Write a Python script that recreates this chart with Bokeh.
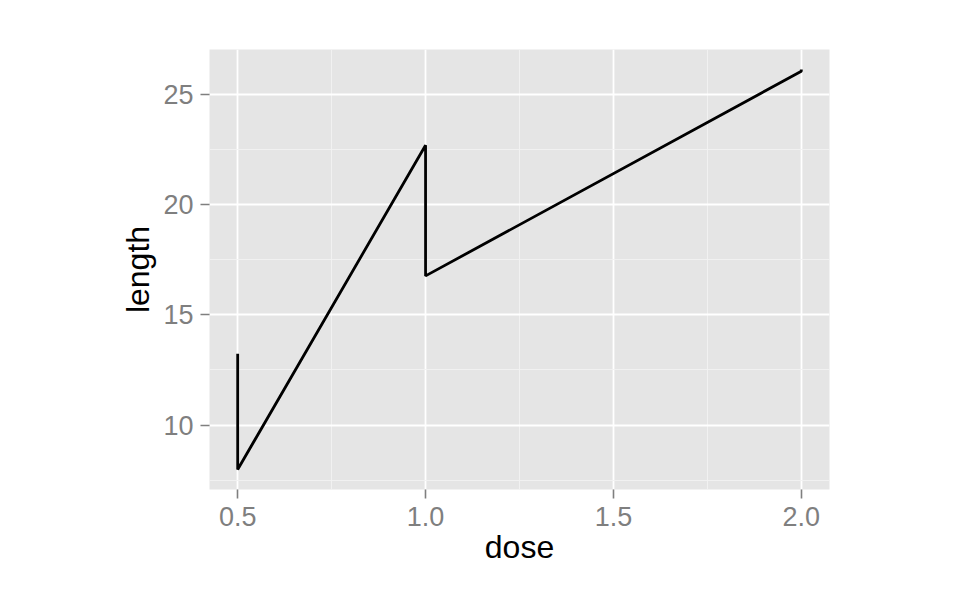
from bokeh.plotting import figure
from bokeh.models import FixedTicker, Range1d, ColumnDataSource
from bokeh.embed import file_html
from bokeh.resources import INLINE

# Data (mean tooth length by supp and dose, ordered by dose)
dose = [0.5, 0.5, 1.0, 1.0, 2.0, 2.0]
length = [13.23, 7.98, 22.70, 16.77, 26.06, 26.14]

x_ticks = [0.5, 1.0, 1.5, 2.0]
x_tick_labels = ["0.5", "1.0", "1.5", "2.0"]
x_minor = [0.75, 1.25, 1.75]
y_ticks = [10, 15, 20, 25]
y_tick_labels = ["10", "15", "20", "25"]
y_minor = [7.5, 12.5, 17.5, 22.5]

src = ColumnDataSource(dict(dose=dose, length=length))

xpad = (max(dose) - min(dose)) * 0.05
ypad = (max(length) - min(length)) * 0.05

p = figure(width=940, height=585, output_backend="svg", toolbar_location=None,
           x_range=Range1d(min(dose) - xpad, max(dose) + xpad),
           y_range=Range1d(min(length) - ypad, max(length) + ypad),
           min_border_left=209, min_border_right=111,
           min_border_top=49, min_border_bottom=96)

p.background_fill_color = "#E5E5E5"
p.border_fill_color = "white"
p.outline_line_color = None

p.line("dose", "length", source=src, line_color="black", line_width=2.8)

p.xaxis.ticker = FixedTicker(ticks=x_ticks, minor_ticks=x_minor)
p.yaxis.ticker = FixedTicker(ticks=y_ticks, minor_ticks=y_minor)
p.xaxis.major_label_overrides = {t: l for t, l in zip(x_ticks, x_tick_labels)}
p.yaxis.major_label_overrides = {t: l for t, l in zip(y_ticks, y_tick_labels)}

for ax in (p.xaxis, p.yaxis):
    ax.axis_line_color = None
    ax.major_tick_line_color = "#7F7F7F"
    ax.major_tick_line_width = 1.6
    ax.major_tick_out = 9
    ax.major_tick_in = 0
    ax.minor_tick_line_color = None
    ax.major_label_text_color = "#7F7F7F"
    ax.major_label_text_font = "Liberation Sans"
    ax.major_label_text_font_size = "27px"
    ax.axis_label_text_font = "Liberation Sans"
    ax.axis_label_text_font_size = "32px"
    ax.axis_label_text_font_style = "normal"
    ax.axis_label_text_color = "black"

p.xaxis.axis_label = "dose"
p.yaxis.axis_label = "length"
p.xaxis.major_label_standoff = 8
p.yaxis.major_label_standoff = 7
p.xaxis.axis_label_standoff = 0
p.yaxis.axis_label_standoff = 4

p.grid.grid_line_color = "white"
p.grid.grid_line_width = 1.8
p.grid.minor_grid_line_color = "#F2F2F2"
p.grid.minor_grid_line_width = 0.9

open("out.html", "w").write(file_html(p, INLINE))
